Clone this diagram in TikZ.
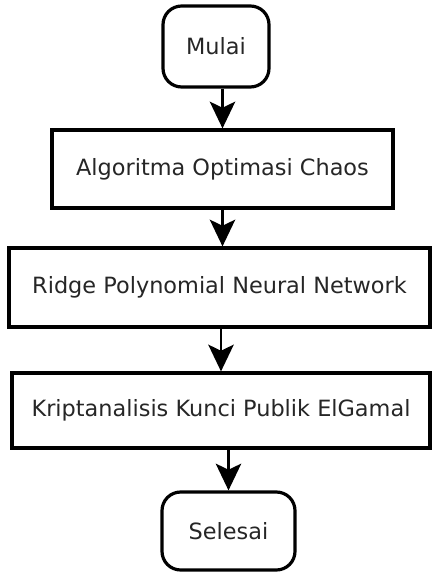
\documentclass[tikz,border=0pt]{standalone}
\usepackage{xcolor}
\usepackage{fontspec}
\setmainfont{DejaVu Sans}
\usepackage{tikz}
\usetikzlibrary{arrows.meta}

\tikzset{
  stepbox/.style={draw, line width=2.4pt, inner sep=0pt, align=center,
    text=black!85, font=\fontsize{16.8}{20}\selectfont},
  terminal/.style={stepbox, rounded corners=14pt},
  flow/.style={line width=2.2pt, -{Stealth[length=20pt, width=19pt, inset=4.5pt]}}
}

\begin{document}
\begin{tikzpicture}[x=0.75pt,y=0.75pt,yscale=-1,xscale=1]
\useasboundingbox (0,0) rectangle (432,574);

% Terminal: start
\node [terminal, minimum width=79.5pt, minimum height=60.75pt] (mulai) at (216,46.5) {Mulai};
% Process boxes
\node [stepbox, minimum width=255.75pt, minimum height=58.5pt] (chaos) at (222.5,169) {Algoritma Optimasi Chaos};
\node [stepbox, minimum width=315.75pt, minimum height=59.25pt] (rpnn) at (219.5,287.5) {Ridge Polynomial Neural Network};
\node [stepbox, minimum width=313.5pt, minimum height=56.25pt] (elgamal) at (221,410.5) {Kriptanalisis Kunci Publik ElGamal};
% Terminal: end
\node [terminal, minimum width=99.75pt, minimum height=58.5pt] (selesai) at (228.5,531) {Selesai};

% Arrows
\draw [flow] (mulai.south -| chaos.north) -- (chaos.north);
\draw [flow] (chaos.south) -- (chaos.south |- rpnn.north);
\draw [flow] (rpnn.south -| elgamal.north) -- (elgamal.north);
\draw [flow] (elgamal.south -| selesai.north) -- (selesai.north);
\end{tikzpicture}
\end{document}
